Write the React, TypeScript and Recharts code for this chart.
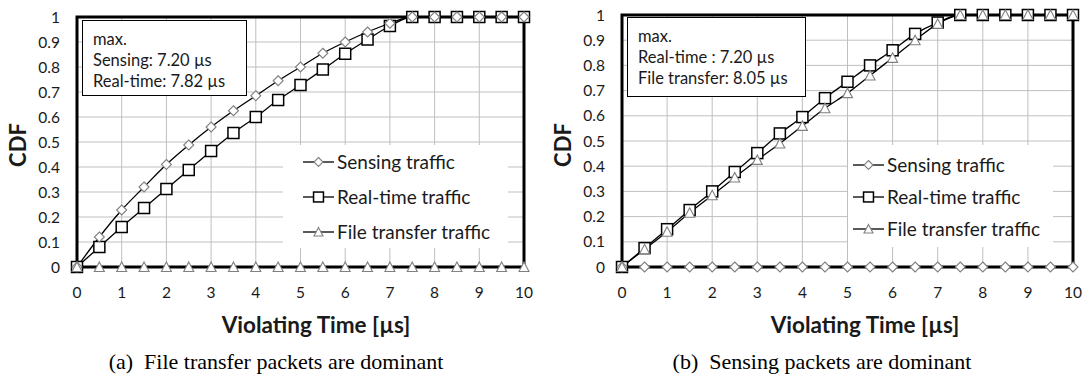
import React from 'react';
import {
  LineChart, Line, XAxis, YAxis, CartesianGrid, ReferenceArea, Legend,
} from 'recharts';

// x positions of the samples (µs)
const violatingTime = [0, 0.5, 1, 1.5, 2, 2.5, 3, 3.5, 4, 4.5, 5, 5.5, 6, 6.5, 7, 7.5, 8, 8.5, 9, 9.5, 10];

// (a) file transfer packets dominant
const fileDomSensing = [0, 0.12, 0.228, 0.32, 0.41, 0.488, 0.56, 0.625, 0.685, 0.745, 0.8, 0.855, 0.9, 0.94, 0.975, 1, 1, 1, 1, 1, 1];
const fileDomRealTime = [0, 0.08, 0.16, 0.236, 0.312, 0.388, 0.464, 0.536, 0.6, 0.668, 0.728, 0.79, 0.853, 0.91, 0.964, 1, 1, 1, 1, 1, 1];
const fileDomFileTransfer = [0, 0, 0, 0, 0, 0, 0, 0, 0, 0, 0, 0, 0, 0, 0, 0, 0, 0, 0, 0, 0];

// (b) sensing packets dominant
const sensDomSensing = [0, 0, 0, 0, 0, 0, 0, 0, 0, 0, 0, 0, 0, 0, 0, 0, 0, 0, 0, 0, 0];
const sensDomRealTime = [0, 0.075, 0.15, 0.226, 0.3, 0.377, 0.452, 0.53, 0.595, 0.67, 0.735, 0.8, 0.86, 0.925, 0.97, 1, 1, 1, 1, 1, 1];
const sensDomFileTransfer = [0, 0.07, 0.14, 0.215, 0.285, 0.355, 0.425, 0.49, 0.56, 0.63, 0.69, 0.76, 0.83, 0.9, 0.965, 1, 1, 1, 1, 1, 1];

const xTicks = [0, 1, 2, 3, 4, 5, 6, 7, 8, 9, 10];
const yTicks = [0, 0.1, 0.2, 0.3, 0.4, 0.5, 0.6, 0.7, 0.8, 0.9, 1];

const seriesNames = ['Sensing traffic', 'Real-time traffic', 'File transfer traffic'];

const FONT = 'Lato, "Open Sans", sans-serif';
const H = 345;

type Shape = 'diamond' | 'square' | 'triangle';

const Marker = ({ shape, cx, cy, s = 1 }: { shape: Shape; cx: number; cy: number; s?: number }) => {
  if (shape === 'diamond') {
    const r = 5 * s;
    return <polygon points={`${cx},${cy - r} ${cx + r},${cy} ${cx},${cy + r} ${cx - r},${cy}`}
      fill="#fff" stroke="#808080" strokeWidth={1.1} />;
  }
  if (shape === 'square') {
    const r = 5.5 * s;
    return <rect x={cx - r} y={cy - r} width={2 * r} height={2 * r} fill="#fff" stroke="#000" strokeWidth={1.5} />;
  }
  const r = 5 * s;
  return <polygon points={`${cx},${cy - r} ${cx + r},${cy + r * 0.9} ${cx - r},${cy + r * 0.9}`}
    fill="#fff" stroke="#808080" strokeWidth={1.1} />;
};

const dotFor = (shape: Shape) => (p: any) => {
  if (p.cx == null || p.cy == null) return <g key={p.index} />;
  return <Marker key={p.index} shape={shape} cx={p.cx} cy={p.cy} />;
};

const shapes: Shape[] = ['diamond', 'square', 'triangle'];

interface PanelProps {
  left: number;
  width: number;
  axisW: number;
  top: number;
  right: number;
  sensing: number[];
  realTime: number[];
  fileTransfer: number[];
  note: string[];
  noteBox: { x: number; y: number; w: number; h: number };
  legendBox: { x: number; y: number; w: number; h: number; iconX: number; rowY: number[] };
  titleX: number;
  caption: string;
  captionX: number;
}

const Panel = (p: PanelProps) => {
  const rows = violatingTime.map((t, i) => ({
    t, sensing: p.sensing[i], realTime: p.realTime[i], fileTransfer: p.fileTransfer[i],
  }));
  const lb = p.legendBox;
  const legendContent = () => (
    <svg width={lb.w} height={lb.h} style={{ display: 'block', background: '#fff' }}>
      {seriesNames.map((name, i) => (
        <g key={name}>
          <line x1={lb.iconX} x2={lb.iconX + 31} y1={lb.rowY[i]} y2={lb.rowY[i]} stroke="#000" strokeWidth={1.3} />
          <Marker shape={shapes[i]} cx={lb.iconX + 15.5} cy={lb.rowY[i]} s={0.9} />
          <text x={lb.iconX + 34} y={lb.rowY[i]} dy="0.36em" fontSize={19} fill="#1a1a1a" fontFamily={FONT}>{name}</text>
        </g>
      ))}
    </svg>
  );
  return (
    <div style={{ position: 'absolute', left: p.left, top: 0, width: p.width, height: 377 }}>
      <LineChart width={p.width} height={H} data={rows}
        margin={{ top: p.top, right: p.right, bottom: 0, left: 0 }}>
        <CartesianGrid stroke="#bfbfbf" strokeWidth={1} />
        <XAxis dataKey="t" type="number" domain={[0, 10]} ticks={xTicks} height={H - 267}
          tickLine={false} tickSize={0} tickMargin={20} axisLine={false}
          tick={{ fontSize: 15.5, fill: '#1a1a1a', fontFamily: FONT }}
          label={{
            content: () => (
              <text x={p.titleX} y={325} textAnchor="middle" dy="0.36em"
                fontSize={22.5} fontWeight="bold" fill="#1a1a1a" fontFamily={FONT}>Violating Time [µs]</text>
            ),
          }} />
        <YAxis type="number" domain={[0, 1]} ticks={yTicks} width={p.axisW}
          tickLine={false} tickSize={0} tickMargin={17} axisLine={false}
          tick={{ fontSize: 15.5, fill: '#1a1a1a', fontFamily: FONT }}
          label={{
            content: () => (
              <text x={18} y={145} textAnchor="middle" dy="0.36em" transform="rotate(-90 18 145)"
                fontSize={22} fontWeight="bold" fill="#1a1a1a" fontFamily={FONT}>CDF</text>
            ),
          }} />
        <Line dataKey="realTime" name={seriesNames[1]} type="monotone" stroke="#000" strokeWidth={1.3}
          dot={dotFor('square')} isAnimationActive={false} />
        <Line dataKey="sensing" name={seriesNames[0]} type="monotone" stroke="#000" strokeWidth={1.3}
          dot={dotFor('diamond')} isAnimationActive={false} />
        <Line dataKey="fileTransfer" name={seriesNames[2]} type="monotone" stroke="#000" strokeWidth={1.3}
          dot={dotFor('triangle')} isAnimationActive={false} />
        <ReferenceArea x1={0} x2={10} y1={0} y2={1} fill="none" stroke="#000" strokeWidth={3} fillOpacity={0} />
        <Legend layout="vertical" align="center" verticalAlign="middle" content={legendContent}
          wrapperStyle={{ left: lb.x, top: lb.y, width: lb.w, height: lb.h }} />
      </LineChart>
      <div style={{
        position: 'absolute', left: p.noteBox.x, top: p.noteBox.y, width: p.noteBox.w, height: p.noteBox.h,
        boxSizing: 'border-box', border: '1px solid #000', background: '#fff',
        fontFamily: FONT, fontSize: 16.5, lineHeight: '21px', color: '#1a1a1a', padding: '8px 0 0 10px',
        whiteSpace: 'nowrap',
      }}>
        {p.note.map((s) => <div key={s}>{s}</div>)}
      </div>
      <div style={{
        position: 'absolute', left: p.captionX - 250, width: 500, top: 349, textAlign: 'center',
        fontFamily: '"Liberation Serif", serif', fontSize: 22, lineHeight: '26px', color: '#000', whiteSpace: 'pre',
      }}>{p.caption}</div>
    </div>
  );
};

export default function App() {
  return (
    <div style={{ position: 'absolute', left: 0, top: 0, width: 1083, height: 377, background: '#fff', overflow: 'hidden' }}>
      <Panel left={0} width={540} axisW={77} top={17} right={16}
        sensing={fileDomSensing} realTime={fileDomRealTime} fileTransfer={fileDomFileTransfer}
        note={['max.', 'Sensing: 7.20 µs', 'Real-time: 7.82 µs']}
        noteBox={{ x: 82, y: 20, w: 165, h: 76 }}
        legendBox={{ x: 283, y: 145, w: 225, h: 103, iconX: 20, rowY: [17, 52, 87] }}
        titleX={316}
        caption="(a)  File transfer packets are dominant" captionX={276} />
      <Panel left={545} width={538} axisW={77} top={15} right={10}
        sensing={sensDomSensing} realTime={sensDomRealTime} fileTransfer={sensDomFileTransfer}
        note={['max.', 'Real-time : 7.20 µs', 'File transfer: 8.05 µs']}
        noteBox={{ x: 82, y: 17, w: 179, h: 80 }}
        legendBox={{ x: 303, y: 145, w: 205, h: 102, iconX: 5, rowY: [20, 52, 84] }}
        titleX={320}
        caption="(b)  Sensing packets are dominant" captionX={277} />
    </div>
  );
}
